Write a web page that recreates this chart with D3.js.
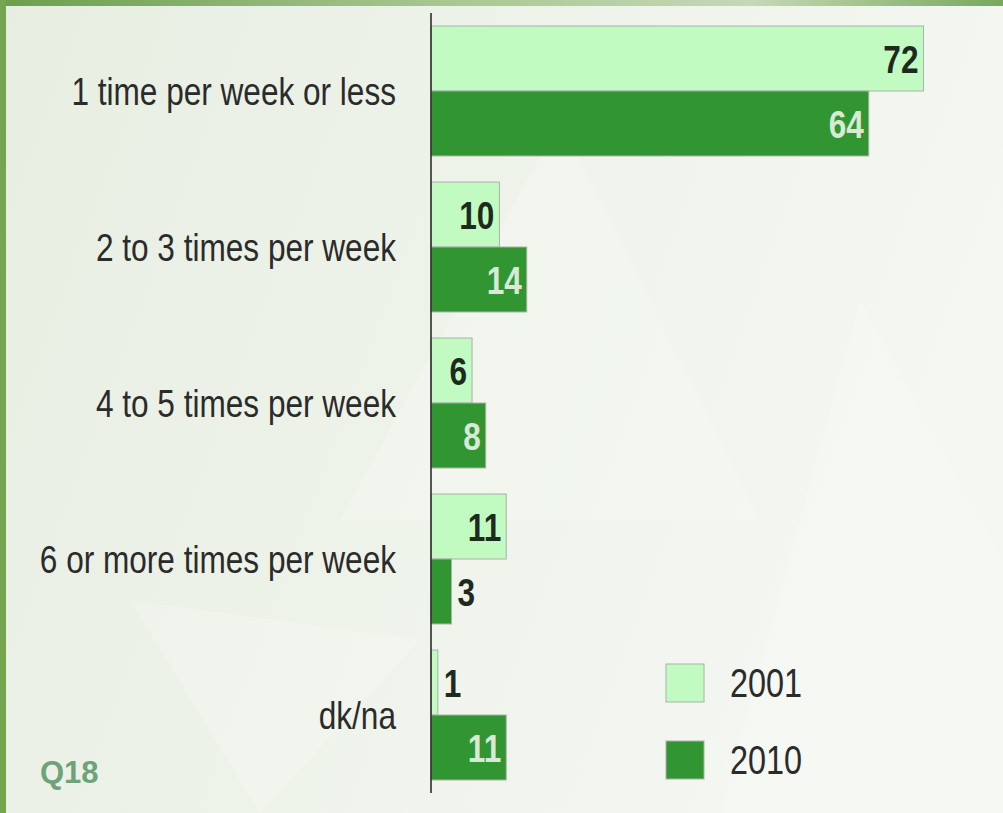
<!DOCTYPE html>
<meta charset="utf-8">
<style>
html, body { margin: 0; padding: 0; }
svg { display: block; }
</style>
<svg width="1003" height="813"></svg>
<script src="https://d3js.org/d3.v7.min.js"></script>
<script>

var categories = ["1 time per week or less", "2 to 3 times per week", "4 to 5 times per week", "6 or more times per week", "dk/na"];
var series = ["2001", "2010"];
var values2001 = [72, 10, 6, 11, 1];
var values2010 = [64, 14, 8, 3, 11];

var colors = {"2001": "#c2fbc2", "2010": "#319631"};
var labelColors = {"2001": "#1f2a1f", "2010": "#d6ead6"};
var font = '"Liberation Sans", Arial, sans-serif';
var squeeze = 0.81; // the source uses a narrow face

var svg = d3.select("svg"),
    W = +svg.attr("width"),
    H = +svg.attr("height"),
    x0 = 431;

// background
var defs = svg.append("defs");
var bg = defs.append("linearGradient").attr("id", "bg").attr("x1", 0).attr("x2", 1).attr("y1", 0).attr("y2", 0.3);
bg.append("stop").attr("offset", 0).attr("stop-color", "#e7eee1");
bg.append("stop").attr("offset", 0.5).attr("stop-color", "#eef3ea");
bg.append("stop").attr("offset", 1).attr("stop-color", "#f4f7f2");
var topBand = defs.append("linearGradient").attr("id", "topband").attr("x1", 0).attr("x2", 1);
topBand.append("stop").attr("offset", 0).attr("stop-color", "#6c9f4a");
topBand.append("stop").attr("offset", 0.45).attr("stop-color", "#a9c793");
topBand.append("stop").attr("offset", 0.75).attr("stop-color", "#c5d8b8");
topBand.append("stop").attr("offset", 1).attr("stop-color", "#7aa85a");

svg.append("rect").attr("width", W).attr("height", H).attr("fill", "url(#bg)");

// faint star shapes
var deco = svg.append("g").attr("fill", "#ffffff").attr("opacity", 0.18);
deco.append("path").attr("d", "M560,120 L760,520 L340,520 Z");
deco.append("path").attr("d", "M860,300 L1003,560 L1003,813 L720,813 Z");
deco.append("path").attr("d", "M130,600 L420,640 L260,813 Z");

svg.append("rect").attr("width", W).attr("height", 6).attr("fill", "url(#topband)");
svg.append("rect").attr("width", 6).attr("height", H).attr("fill", "#75a54f");

var x = d3.scaleLinear()
    .domain([0, 100])
    .range([0, 684]);

var y0 = d3.scaleBand()
    .domain(categories)
    .range([13, 793])
    .paddingInner(0.167)
    .paddingOuter(0.0835);

var y1 = d3.scaleBand()
    .domain(series)
    .range([0, y0.bandwidth()]);

var data = categories.map(function(c, i) {
  return {cat: c, vals: [{key: "2001", v: values2001[i]}, {key: "2010", v: values2010[i]}]};
});

function place(px, py) {
  return "translate(" + px + "," + py + ") scale(" + squeeze + ",1)";
}

var g = svg.append("g").attr("transform", "translate(" + x0 + ",0)");

var groups = g.selectAll("g.cat-group")
  .data(data)
  .enter().append("g")
    .attr("class", "cat-group")
    .attr("transform", function(d) { return "translate(0," + y0(d.cat) + ")"; });

groups.selectAll("rect")
  .data(function(d) { return d.vals; })
  .enter().append("rect")
    .attr("x", 0)
    .attr("y", function(d) { return y1(d.key); })
    .attr("width", function(d) { return x(d.v); })
    .attr("height", y1.bandwidth())
    .attr("fill", function(d) { return colors[d.key]; })
    .attr("stroke", "#a9b2a9")
    .attr("stroke-width", 1);

groups.selectAll("text")
  .data(function(d) { return d.vals; })
  .enter().append("text")
    .attr("dy", "0.36em")
    .attr("font-family", font)
    .attr("font-weight", "bold")
    .attr("font-size", 39)
    .text(function(d) { return d.v; })
    .each(function(d) {
      var t = d3.select(this),
          w = this.getComputedTextLength() * squeeze,
          bw = x(d.v),
          cy = y1(d.key) + y1.bandwidth() / 2;
      if (w + 10 < bw) {
        t.attr("transform", place(bw - 5, cy)).attr("text-anchor", "end").attr("fill", labelColors[d.key]);
      } else {
        t.attr("transform", place(bw + 6, cy)).attr("text-anchor", "start").attr("fill", "#1f2a1f");
      }
    });

// axis line
g.append("line")
    .attr("x1", 0).attr("x2", 0)
    .attr("y1", 13).attr("y2", 793)
    .attr("stroke", "#222")
    .attr("stroke-width", 1.5);

// category labels
svg.append("g").selectAll("text")
  .data(categories)
  .enter().append("text")
    .attr("transform", function(d) { return place(396, y0(d) + y0.bandwidth() / 2); })
    .attr("dy", "0.36em")
    .attr("text-anchor", "end")
    .attr("font-family", font)
    .attr("font-size", 39)
    .attr("fill", "#2b2b2b")
    .text(function(d) { return d; });

// legend
var legend = svg.append("g")
  .selectAll("g")
  .data(series)
  .enter().append("g")
    .attr("transform", function(d, i) { return "translate(666," + (664 + i * 77) + ")"; });

legend.append("rect")
    .attr("width", 38)
    .attr("height", 38)
    .attr("fill", function(d) { return colors[d]; })
    .attr("stroke", "#a9b2a9");

legend.append("text")
    .attr("transform", place(64, 19))
    .attr("dy", "0.36em")
    .attr("font-family", font)
    .attr("font-size", 40)
    .attr("fill", "#2b2b2b")
    .text(function(d) { return d; });

svg.append("text")
    .attr("x", 40)
    .attr("y", 783)
    .attr("font-family", font)
    .attr("font-weight", "bold")
    .attr("font-size", 31)
    .attr("fill", "#6ea37a")
    .text("Q18");

</script>
